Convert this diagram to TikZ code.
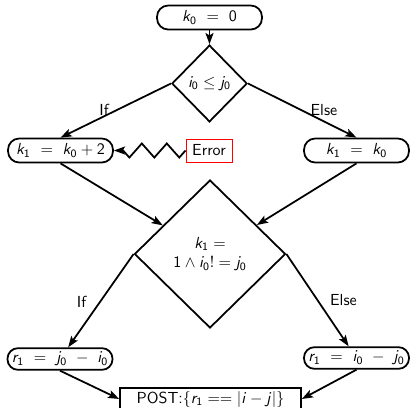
\documentclass[tikz,border=0pt]{standalone}
\usetikzlibrary{shapes.geometric,arrows.meta,decorations.pathmorphing}
\renewcommand{\familydefault}{\sfdefault}
\DeclareMathAlphabet{\mathsfit}{OT1}{cmss}{m}{sl}
\newcommand{\vv}[2]{\mathsfit{#1}_{\mathsf{#2}}}
\begin{document}
\begin{tikzpicture}[x=0.625pt,y=-0.625pt, line width=1.1pt,
  term/.style={draw, rounded corners=7pt, minimum width=65.6pt, minimum height=15pt, inner sep=1pt},
  rterm/.style={term, minimum height=13.5pt, rounded corners=6.5pt},
  dec/.style={draw, diamond, inner sep=0pt, aspect=1},
  arr/.style={-{Stealth[length=7pt,width=5pt,inset=1.5pt]}},
  lbl/.style={inner sep=0pt}]
\useasboundingbox (0,0) rectangle (411,408);
\node[term] (n0) at (209.5,17.5) {$\vv{k}{0}\ =\ \mathsf{0}$};
\node[dec, minimum width=47pt, minimum height=48pt] (d1) at (209.5,83.5) {$\vv{i}{0} \le \vv{j}{0}$};
\node[term] (k1a) at (60.5,150.5) {$\vv{k}{1}\ =\ \vv{k}{0} + \mathsf{2}$};
\node[draw=red, line width=0.6pt, minimum width=28.75pt, minimum height=14.4pt, inner sep=1pt] (err) at (209,150.5) {Error};
\node[term] (k1b) at (356.5,150.5) {$\vv{k}{1}\ =\ \vv{k}{0}$};
\node[dec, minimum width=94.4pt, minimum height=92.5pt, align=center] (d2) at (210,254) {$\vv{k}{1} =$\\$\mathsf{1} \wedge \vv{i}{0}! = \vv{j}{0}$};
\node[rterm] (r1a) at (60,359) {$\vv{r}{1}\ =\ \vv{j}{0}\ -\ \vv{i}{0}$};
\node[rterm] (r1b) at (356.5,358) {$\vv{r}{1}\ =\ \vv{i}{0}\ -\ \vv{j}{0}$};
\node[draw, minimum width=113pt, minimum height=13.75pt, inner sep=1pt] (post) at (210.5,399) {POST:$\{\vv{r}{1} == |\mathsfit{i} - \mathsfit{j}|\}$};
\node[lbl] (l1) at (104,110) {If};
\node[lbl] (l2) at (324,110) {Else};
\node[lbl] (l3) at (81.5,301.5) {If};
\node[lbl] (l4) at (343.5,300) {Else};
\draw[arr] (n0) -- (d1);
\draw[arr] (d1.west) -- (k1a.north);
\draw[arr] (d1.east) -- (k1b.north);
\draw[arr, decorate, decoration={zigzag, segment length=15.6pt, amplitude=4.4pt, post length=5pt}] (err) -- (k1a);
\draw[arr] (k1a.south) -- (d2);
\draw[arr] (k1b.south) -- (d2);
\draw[arr] (d2.west) -- (r1a);
\draw[arr] (d2.east) -- (r1b);
\draw[arr] (r1a.south) -- (post.west);
\draw[arr] (r1b.south) -- (post.east);
\end{tikzpicture}
\end{document}
